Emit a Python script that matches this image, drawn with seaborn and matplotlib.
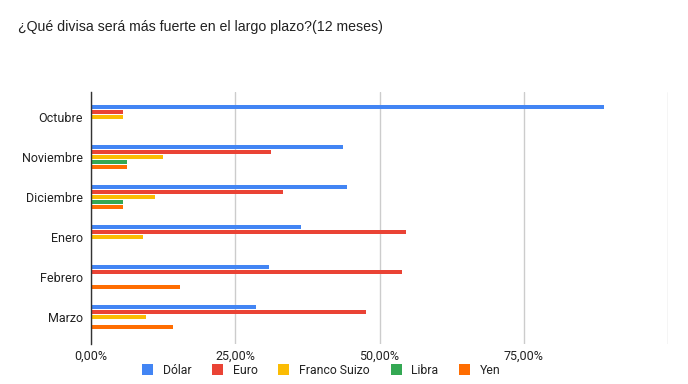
import pandas as pd
import seaborn as sns
import matplotlib.pyplot as plt
from matplotlib.patches import Patch
from matplotlib.ticker import FuncFormatter

# Data (percent)
meses = ["Octubre", "Noviembre", "Diciembre", "Enero", "Febrero", "Marzo"]
divisas = ["Dólar", "Euro", "Franco Suizo", "Libra", "Yen"]
dolar = [88.89, 43.75, 44.44, 36.36, 30.77, 28.57]
euro = [5.56, 31.25, 33.33, 54.55, 53.85, 47.62]
franco = [5.56, 12.50, 11.11, 9.09, 0.0, 9.52]
libra = [0.0, 6.25, 5.56, 0.0, 0.0, 0.0]
yen = [0.0, 6.25, 5.56, 0.0, 15.38, 14.29]
colores = ["#4285F4", "#EA4335", "#FBBC04", "#34A853", "#FF6D01"]

rows = []
for d, serie in zip(divisas, [dolar, euro, franco, libra, yen]):
    for m, v in zip(meses, serie):
        rows.append({"mes": m, "divisa": d, "valor": v / 100})
df = pd.DataFrame(rows)

sns.set_theme(style="white")
plt.rcParams["font.family"] = ["Roboto", "DejaVu Sans"]

fig = plt.figure(figsize=(6.88, 3.84), dpi=100)
ax = fig.add_axes([0.1323, 0.1042, 0.8387, 0.6562])

sns.barplot(data=df, y="mes", x="valor", hue="divisa", order=meses,
            hue_order=divisas, palette=colores, saturation=1, orient="h",
            width=0.625, gap=0.2, linewidth=0, legend=False, ax=ax)

ax.set_xlim(0, 1.0)
ax.set_ylim(5.675, -0.625)
ax.set_xticks([0, 0.25, 0.5, 0.75, 1.0])
ax.xaxis.set_major_formatter(FuncFormatter(
    lambda v, _: "" if v >= 1 else f"{v*100:.2f}%".replace(".", ",")))
ax.grid(axis="x", color="#cccccc", linewidth=1)
ax.set_axisbelow(True)
for s in ["top", "right", "bottom"]:
    ax.spines[s].set_visible(False)
ax.spines["left"].set_color("#333333")
ax.spines["left"].set_linewidth(1)
ax.tick_params(axis="both", length=0, labelsize=9, colors="#222222")
ax.tick_params(axis="y", pad=6)
ax.tick_params(axis="x", pad=4.5)
ax.set_xlabel("")
ax.set_ylabel("")

fig.text(0.026, 0.93, "¿Qué divisa será más fuerte en el largo plazo?(12 meses)",
         fontsize=10.2, color="#222222", family=["Liberation Sans", "DejaVu Sans"],
         va="center", ha="left")

handles = [Patch(facecolor=c, edgecolor="none") for c in colores]
fig.legend(handles, divisas, loc="center", bbox_to_anchor=(0.467, 0.036),
           ncol=5, frameon=False, fontsize=8.8, handlelength=0.9, handleheight=0.9,
           handletextpad=0.8, columnspacing=1.7, labelcolor="#222222")

fig.savefig("out.png", dpi=100)
